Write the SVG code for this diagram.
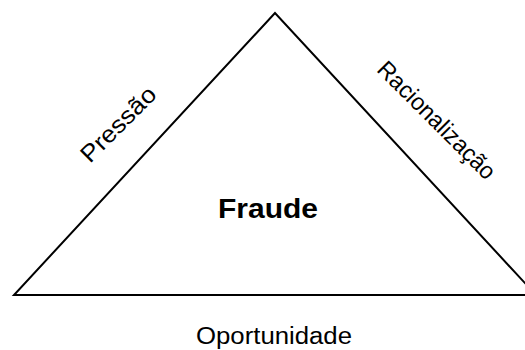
<svg xmlns="http://www.w3.org/2000/svg" width="525" height="350" viewBox="0 0 525 350">
  <style>
    .edge { fill: none; stroke: #000; stroke-width: 2; stroke-linejoin: miter; }
    .lbl { font-family: "Liberation Sans", Arial, sans-serif; fill: #000; }
  </style>
  <rect width="525" height="350" fill="#fff"/>
  <!-- fraud triangle -->
  <g id="triangle">
    <polygon class="edge" points="275,13 14,295 536,295"/>
  </g>
  <g id="center">
    <text class="lbl" x="268" y="218" font-size="28" font-weight="bold" text-anchor="middle" textLength="100" lengthAdjust="spacingAndGlyphs">Fraude</text>
  </g>
  <g id="side-left">
    <text class="lbl" font-size="24" text-anchor="middle" textLength="96" lengthAdjust="spacingAndGlyphs" transform="translate(124,130) rotate(-45)">Pressão</text>
  </g>
  <g id="side-right">
    <text class="lbl" font-size="24" text-anchor="middle" textLength="156" lengthAdjust="spacingAndGlyphs" transform="translate(431,126) rotate(45)">Racionalização</text>
  </g>
  <g id="side-bottom">
    <text class="lbl" x="274" y="344" font-size="23" text-anchor="middle" textLength="156" lengthAdjust="spacingAndGlyphs">Oportunidade</text>
  </g>
</svg>
